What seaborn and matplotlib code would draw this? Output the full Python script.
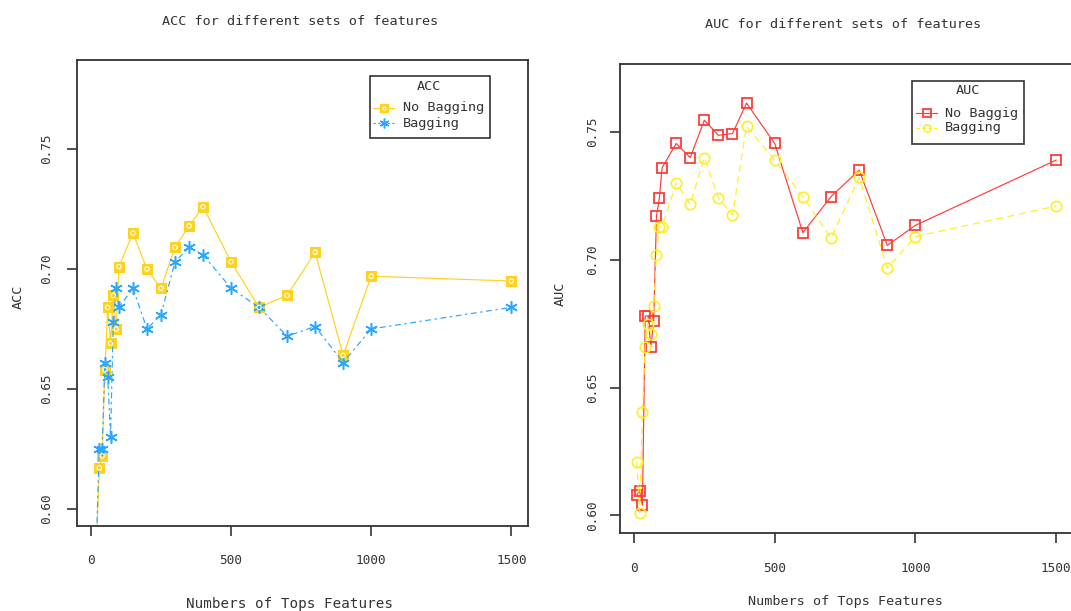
import numpy as np
import pandas as pd
import matplotlib
matplotlib.use("Agg")
import matplotlib.pyplot as plt
from matplotlib.lines import Line2D
from matplotlib.patches import Rectangle
import seaborn as sns

# Number of top features used in each run
n_features = [10, 20, 30, 40, 50, 60, 70, 80, 90, 100, 150, 200, 250, 300,
              350, 400, 500, 600, 700, 800, 900, 1000, 1500]

# Accuracy
acc_no_bagging = [0.570, 0.585, 0.617, 0.622, 0.658, 0.684, 0.669, 0.689, 0.675,
                  0.701, 0.715, 0.700, 0.692, 0.709, 0.718, 0.726, 0.703, 0.684,
                  0.689, 0.707, 0.664, 0.697, 0.695]
acc_bagging = [0.575, 0.588, 0.625, 0.625, 0.661, 0.655, 0.630, 0.678, 0.692,
               0.684, 0.692, 0.675, 0.681, 0.703, 0.709, 0.706, 0.692, 0.684,
               0.672, 0.676, 0.661, 0.675, 0.684]

# Area under the ROC curve
auc_no_bagging = [0.608, 0.6095, 0.604, 0.678, 0.678, 0.666, 0.676, 0.717, 0.724,
                  0.736, 0.7455, 0.740, 0.7546, 0.7487, 0.7494, 0.7613, 0.7455,
                  0.7106, 0.7247, 0.7351, 0.7056, 0.7135, 0.739]
auc_bagging = [0.621, 0.601, 0.6405, 0.666, 0.675, 0.671, 0.682, 0.702, 0.713,
               0.713, 0.730, 0.7217, 0.740, 0.7243, 0.7175, 0.7522, 0.739,
               0.7247, 0.7085, 0.7322, 0.6968, 0.7091, 0.721]

y_ticks = [0.60, 0.65, 0.70, 0.75]
x_ticks = [0, 500, 1000, 1500]

sns.set_theme(style="white")
plt.rcParams["font.family"] = ["DejaVu Sans Mono", "DejaVu Sans"]

W, H = 1071, 611
GOLD = "#FFD21F"
BLUE = "#2AA6FF"
RED = "#FF3B3B"
YELLOW = "#FFEE22"
FG = "#333333"
FS = 9.7
LW = 0.85


def fx(x):
    return x / W


def fy(y):
    return 1 - y / H


fig = plt.figure(figsize=(W / 100, H / 100), dpi=100)
ax1 = fig.add_axes([fx(77), fy(526), fx(528 - 77), (526 - 60) / H])
ax2 = fig.add_axes([fx(620), fy(532.7), fx(1073 - 620), (532.7 - 63.5) / H])

df_acc = pd.DataFrame({"n": n_features, "nobag": acc_no_bagging, "bag": acc_bagging})
df_auc = pd.DataFrame({"n": n_features, "nobag": auc_no_bagging, "bag": auc_bagging})


# marker styles (size given separately so legend keys can be smaller)
def nobag_acc_kw(ms):
    return dict(color=GOLD, lw=LW, marker="s", markersize=ms,
                markerfacecolor=GOLD, markeredgecolor=GOLD)


def nobag_acc_inner(ms):
    return dict(marker="o", markersize=ms, markerfacecolor="none",
                markeredgecolor="white", markeredgewidth=0.8)


def bag_acc_kw(ms):
    return dict(color=BLUE, lw=LW, marker=(6, 2, 0), markersize=ms,
                markeredgewidth=1.1, markeredgecolor=BLUE)


def nobag_auc_kw(ms):
    return dict(color=RED, lw=LW, marker="s", markersize=ms,
                markerfacecolor="none", markeredgecolor=RED,
                markeredgewidth=1.3)


def bag_auc_kw(ms):
    return dict(color=YELLOW, lw=LW, marker="o", markersize=ms,
                markerfacecolor="none", markeredgecolor=YELLOW,
                markeredgewidth=1.2)


# ---- ACC panel
sns.lineplot(data=df_acc, x="n", y="nobag", ax=ax1, **nobag_acc_kw(7))
sns.scatterplot(data=df_acc, x="n", y="nobag", ax=ax1, marker="o", s=10,
                facecolor="none", edgecolor="white", linewidth=0.8, zorder=4)
sns.lineplot(data=df_acc, x="n", y="bag", ax=ax1,
             linestyle=(0, (5, 3, 2, 3)), **bag_acc_kw(9))
ax1.set_xlim(-49.6, 1559.6)
ax1.set_ylim(0.5928, 0.7872)

# ---- AUC panel
sns.lineplot(data=df_auc, x="n", y="nobag", ax=ax2, **nobag_auc_kw(7.5))
sns.lineplot(data=df_auc, x="n", y="bag", ax=ax2,
             linestyle=(0, (6, 4)), **bag_auc_kw(7.5))
ax2.set_xlim(-49.6, 1559.6)
ax2.set_ylim(0.5932, 0.7768)

for ax in (ax1, ax2):
    ax.set_xticks(x_ticks)
    ax.set_yticks(y_ticks)
    ax.set_yticklabels([f"{v:.2f}" for v in y_ticks], rotation=90, va="center")
    ax.tick_params(axis="both", which="both", direction="out", length=7,
                   width=1.2, color=FG, labelcolor=FG, labelsize=9.2,
                   bottom=True, left=True)
    for sp in ax.spines.values():
        sp.set_color(FG)
        sp.set_linewidth(1.3)
    ax.set_xlabel("")
    ax.set_ylabel("")
    ax.grid(False)
ax1.tick_params(axis="x", pad=13)
ax1.tick_params(axis="y", pad=10)
ax2.tick_params(axis="x", pad=14)
ax2.tick_params(axis="y", pad=8)


# ---- boxed legends
def draw_legend(box, title, title_xy, entries, handle_x, text_x):
    x0, y0, x1, y1 = box
    fig.add_artist(Rectangle((fx(x0), fy(y1)), fx(x1 - x0), (y1 - y0) / H,
                             transform=fig.transFigure, facecolor="white",
                             edgecolor=FG, linewidth=1.2, zorder=10))
    fig.text(fx(title_xy[0]), fy(title_xy[1]), title, ha="center", va="center",
             fontsize=FS, color=FG, zorder=11)
    xs = [fx(handle_x[0]), fx(handle_x[1])]
    for yy, label, styles, ls in entries:
        for i, st in enumerate(styles):
            if i == 0:
                fig.add_artist(Line2D(xs, [fy(yy)] * 2, transform=fig.transFigure,
                                      linestyle=ls, color=st["color"],
                                      lw=st["lw"], zorder=11))
            mk = {k: v for k, v in st.items() if k not in ("lw", "color")}
            fig.add_artist(Line2D([sum(xs) / 2], [fy(yy)],
                                  transform=fig.transFigure, linestyle="none",
                                  zorder=12 + i, **mk))
        fig.text(fx(text_x), fy(yy), label, ha="left", va="center",
                 fontsize=FS, color=FG, zorder=11)


draw_legend((370, 76, 490, 138), "ACC", (429, 86),
            [(108, "No Bagging", [nobag_acc_kw(5.2), nobag_acc_inner(2.2)], "-"),
             (123, "Bagging", [bag_acc_kw(7)], (0, (2, 2)))],
            (373, 394), 403)
draw_legend((912, 81, 1024, 144), "AUC", (968, 90),
            [(113, "No Baggig", [nobag_auc_kw(5.8)], "-"),
             (128, "Bagging", [bag_auc_kw(5.2)], (0, (3, 2)))],
            (916, 937), 945)

# ---- titles and axis labels
fig.text(fx(300.5), fy(21.3), "ACC for different sets of features", ha="center",
         va="center", fontsize=FS, color=FG)
fig.text(fx(843), fy(24.3), "AUC for different sets of features", ha="center",
         va="center", fontsize=FS, color=FG)
fig.text(fx(289), fy(604), "Numbers of Tops Features", ha="center", va="center",
         fontsize=10.3, color=FG)
fig.text(fx(845), fy(602), "Numbers of Tops Features", ha="center", va="center",
         fontsize=FS, color=FG)
fig.text(fx(18), fy(297), "ACC", ha="center", va="center", rotation=90,
         fontsize=FS, color=FG)
fig.text(fx(560), fy(294), "AUC", ha="center", va="center", rotation=90,
         fontsize=FS, color=FG)

fig.savefig("out.png", dpi=100)
